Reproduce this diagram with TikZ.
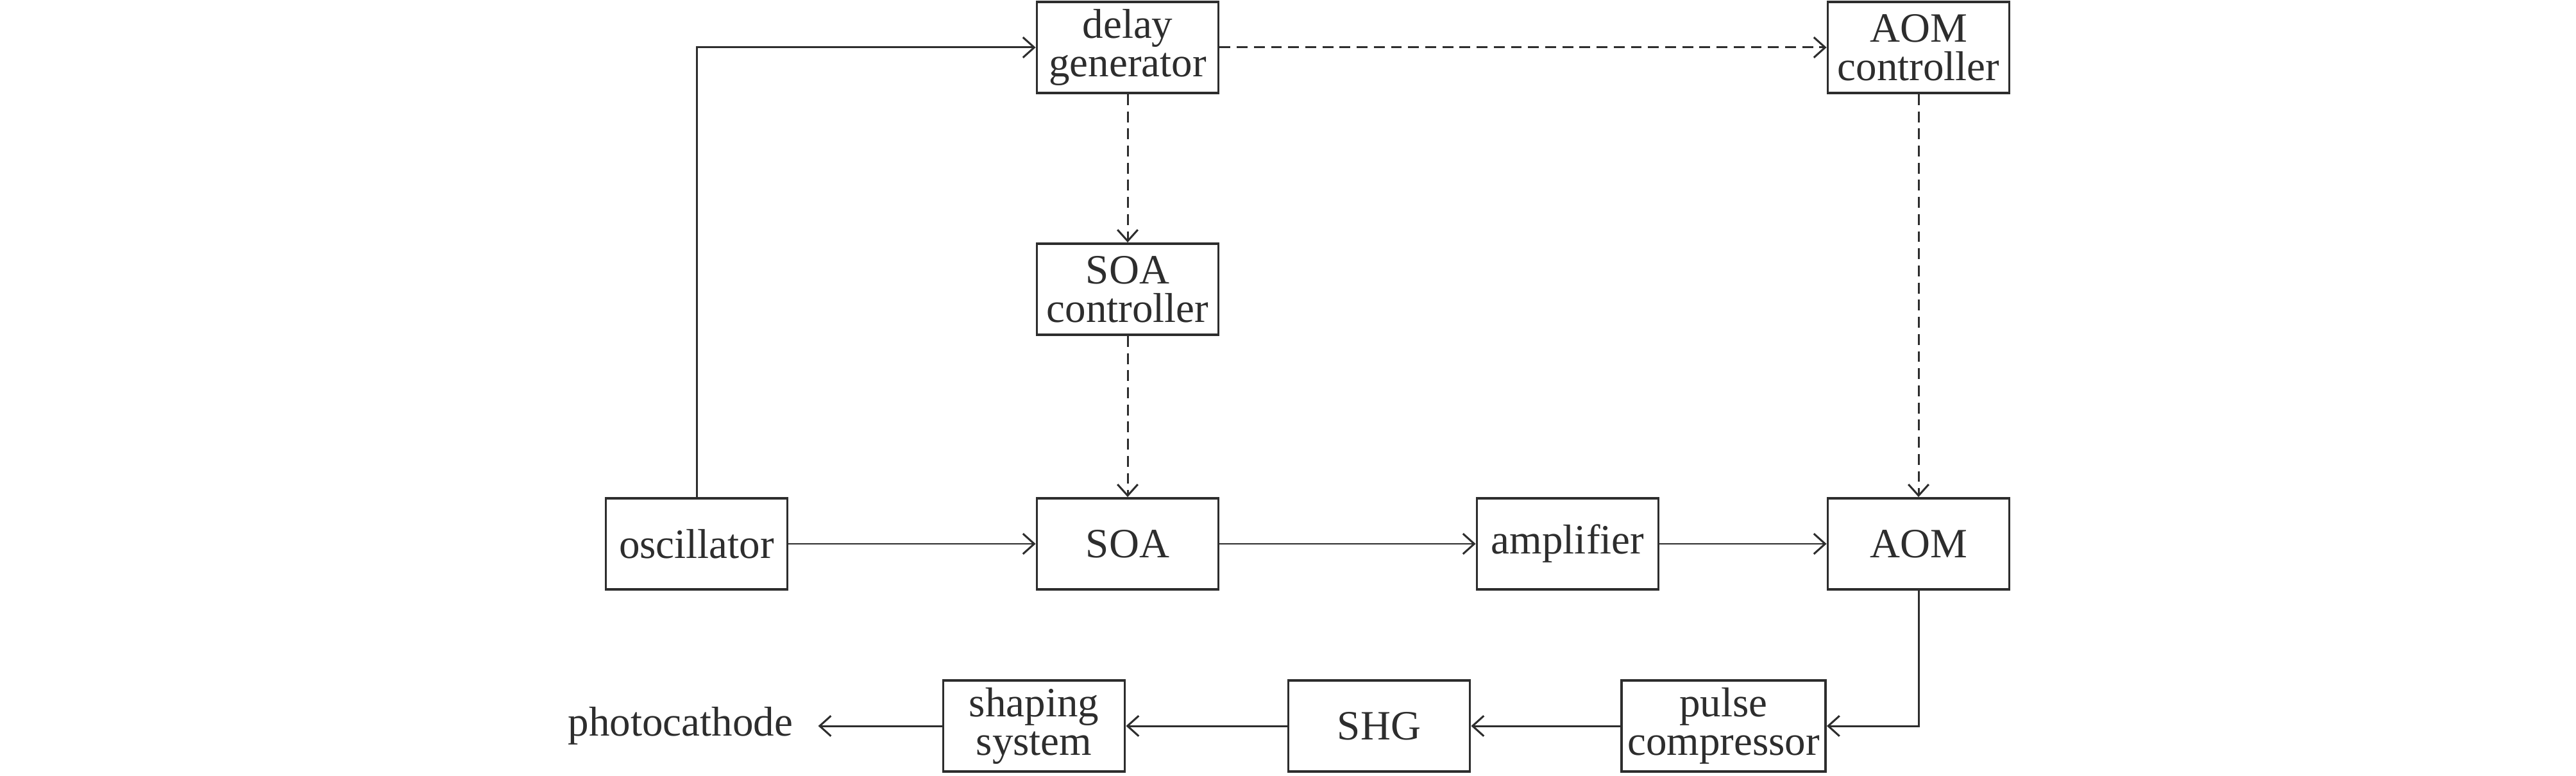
\documentclass[tikz,border=0pt]{standalone}
\usepackage{fontspec}
\setmainfont{Liberation Serif}
\usepackage{tikz}
\usetikzlibrary{positioning,arrows.meta}
\definecolor{inkgray}{RGB}{45,45,45}

\begin{document}
\begin{tikzpicture}[>={Straight Barb[length=5pt,width=9pt]},
                    color=inkgray,line width=0.85pt,
                    block/.style={rectangle,draw,line width=1.1pt,
                                  minimum width=2.83cm,minimum height=1.42cm,inner sep=1pt,
                                  align=center,font=\fontsize{18.5}{17}\selectfont},
                    ctrl/.style={dash pattern=on 4.8pt off 2.8pt}
                   ]
  \useasboundingbox (0,0) rectangle (40.16,12.09);

  \node[block] (delay) at (17.58,11.35) {delay\\generator};
  \node[block] (aomc)  at (29.91,11.35) {AOM\\controller};
  \node[block] (soac)  at (17.58,7.58)  {SOA\\controller};
  \node[block] (osc)   at (10.86,3.61)  {oscillator};
  \node[block] (soa)   at (17.58,3.61)  {SOA};
  \node[block] (amp)   at (24.44,3.61)  {amplifier};
  \node[block] (aom)   at (29.91,3.61)  {AOM};
  \node[block,minimum width=3.18cm] (pc) at (26.87,0.77) {pulse\\compressor};
  \node[block] (shg)   at (21.50,0.77)  {SHG};
  \node[block] (shape) at (16.12,0.77)  {shaping\\system};
  \node[inner xsep=0.38cm,font=\fontsize{18.5}{17}\selectfont]
       (cath) at (10.61,0.77) {photocathode};

  \draw[->] (osc.north) |- (delay.west);
  \path%
    (delay) edge [->,ctrl] (aomc)
            edge [->,ctrl] (soac)
    (soac)  edge [->,ctrl] (soa)
    (aomc)  edge [->,ctrl] (aom)
    (osc)   edge [->] (soa)
    (soa)   edge [->] (amp)
    (amp)   edge [->] (aom)
    (pc)    edge [->] (shg)
    (shg)   edge [->] (shape)
    (shape) edge [->] (cath);
  \draw[->] (aom.south) |- (pc.east);
\end{tikzpicture}
\end{document}
